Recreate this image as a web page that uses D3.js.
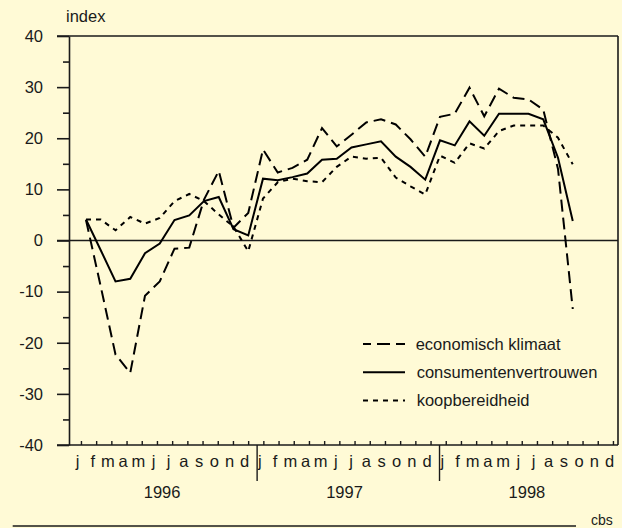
<!DOCTYPE html>
<html>
<head>
<meta charset="utf-8">
<script src="https://cdn.jsdelivr.net/npm/d3@7"></script>
<style>
  body { margin: 0; background: #fffad6; }
  svg { display: block; font-family: "Liberation Sans", Arial, sans-serif; }
</style>
</head>
<body>
<div id="chart"></div>
<script>
// maandletters, jaren en y-ticks
var months = ["j", "f", "m", "a", "m", "j", "j", "a", "s", "o", "n", "d"];
var years = ["1996", "1997", "1998"];
var yTicks = [-40, -30, -20, -10, 0, 10, 20, 30, 40];
var yMinor = [-35, -25, -15, -5, 5, 15, 25, 35];

// jan 1996 t/m okt 1998
var economischKlimaat = [4, -9, -22.3, -25.9, -10.8, -8.0, -1.6, -1.4, 8, 13.6, 2.5, 5.4,
  17.8, 13.3, 14.2, 15.8, 22.0, 18.4, 20.7, 23.1, 23.7, 22.7, 19.8, 16.4,
  24.2, 24.8, 29.9, 24.3, 29.7, 27.9, 27.6, 25.6, 14, -13.4];
var consumentenvertrouwen = [4.1, -1.9, -8.0, -7.5, -2.5, -0.6, 4.0, 4.9, 7.7, 8.5, 2.2, 1.0,
  12.1, 11.8, 12.4, 13.1, 15.8, 16.0, 18.2, 18.8, 19.4, 16.4, 14.4, 11.9,
  19.6, 18.6, 23.3, 20.5, 24.8, 24.8, 24.8, 23.7, 16.2, 3.8];
var koopbereidheid = [4.1, 4.1, 2.0, 4.6, 3.3, 4.4, 7.7, 9.1, 7.7, 5.1, 2.7, -2.1,
  8.2, 11.4, 12.1, 11.6, 11.4, 14.4, 16.4, 16.0, 16.2, 12.3, 10.6, 9.0,
  16.6, 15.2, 19.0, 18.0, 21.4, 22.5, 22.5, 22.5, 20.1, 14.9];

var series = [
  {name: "economisch klimaat", values: economischKlimaat, dash: "12,6", legendDash: "13,6", legendOffset: 5},
  {name: "consumentenvertrouwen", values: consumentenvertrouwen, dash: null, legendDash: null, legendOffset: 0},
  {name: "koopbereidheid", values: koopbereidheid, dash: "5,5", legendDash: "5,5", legendOffset: 0}
];

var width = 622, height = 528;
var plotLeft = 69, plotRight = 618, plotTop = 36, plotBottom = 445;

var svg = d3.select("#chart").append("svg")
    .attr("width", width)
    .attr("height", height);

var y = d3.scaleLinear().domain([-40, 40]).range([plotBottom, plotTop]);
// as voor de maandlabels (36 maanden)
var xa = d3.scaleLinear().domain([0, 36]).range([69.4, 616.6]);
// datapunten per maand
var x = d3.scaleLinear().domain([0, 33]).range([86, 572.75]);

var ink = "#1a1a1a";

// kader boven, rechts, onder en nullijn
svg.append("line").attr("x1", 57).attr("x2", plotRight).attr("y1", y(40)).attr("y2", y(40))
    .attr("stroke", ink).attr("stroke-width", 1.6);
svg.append("line").attr("x1", plotRight).attr("x2", plotRight).attr("y1", y(40)).attr("y2", y(-40))
    .attr("stroke", ink).attr("stroke-width", 1.6);
svg.append("line").attr("x1", 57).attr("x2", plotRight).attr("y1", y(0)).attr("y2", y(0))
    .attr("stroke", ink).attr("stroke-width", 1.4);
svg.append("line").attr("x1", 57).attr("x2", plotRight).attr("y1", y(-40)).attr("y2", y(-40))
    .attr("stroke", ink).attr("stroke-width", 1.6);

// y-as (gewoon koppelteken als minteken)
var yAxis = svg.append("g")
    .attr("transform", "translate(" + plotLeft + ",0)")
    .call(d3.axisLeft(y).tickValues(yTicks).tickSize(12).tickSizeOuter(0).tickPadding(14)
      .tickFormat(function(d) { return String(d); }));
yAxis.select(".domain").attr("stroke", ink).attr("stroke-width", 1.6);
yAxis.selectAll(".tick line").attr("stroke", ink).attr("stroke-width", 1.6);
yAxis.selectAll(".tick text").attr("fill", ink).attr("font-size", 16.5)
    .attr("font-family", "Liberation Sans, Arial, sans-serif");

svg.append("g")
    .attr("transform", "translate(" + plotLeft + ",0)")
    .call(d3.axisLeft(y).tickValues(yMinor).tickSize(6).tickFormat(""))
  .call(function(g) {
    g.select(".domain").remove();
    g.selectAll(".tick line").attr("stroke", ink).attr("stroke-width", 1.6);
  });

// x-as: maandstreepjes
var tickPos = d3.range(36).map(function(k) { return k + 0.76; });
svg.append("g")
    .attr("transform", "translate(0," + plotBottom + ")")
    .call(d3.axisBottom(xa).tickValues(tickPos).tickSize(-4).tickSizeOuter(0).tickFormat(""))
  .call(function(g) {
    g.select(".domain").remove();
    g.selectAll(".tick line").attr("stroke", ink).attr("stroke-width", 1.4);
  });

// maandletters
var monthPos = d3.range(36).map(function(k) { return k + 0.5; });
svg.append("g")
    .attr("transform", "translate(0," + plotBottom + ")")
    .call(d3.axisBottom(xa).tickValues(monthPos).tickSize(0).tickPadding(10)
      .tickFormat(function(d) { return months[Math.floor(d) % 12]; }))
  .call(function(g) {
    g.select(".domain").remove();
    g.selectAll(".tick text").attr("fill", ink).attr("font-size", 16.5)
      .attr("font-family", "Liberation Sans, Arial, sans-serif");
  });

// jaarscheidingen
svg.selectAll(".yearsep")
    .data([1, 2])
  .enter().append("line")
    .attr("class", "yearsep")
    .attr("x1", function(d) { return xa(12 * d + 0.35); })
    .attr("x2", function(d) { return xa(12 * d + 0.35); })
    .attr("y1", plotBottom)
    .attr("y2", 481)
    .attr("stroke", ink)
    .attr("stroke-width", 1.4);

svg.selectAll(".yearlabel")
    .data(years)
  .enter().append("text")
    .attr("class", "yearlabel")
    .attr("x", function(d, i) { return xa(12 * i + 6.1); })
    .attr("y", 497.5)
    .attr("text-anchor", "middle")
    .attr("font-size", 16.5)
    .attr("fill", ink)
    .text(function(d) { return d; });

// lijnen
var line = d3.line()
    .x(function(d, i) { return x(i); })
    .y(function(d) { return y(d); });

svg.selectAll(".serie")
    .data(series)
  .enter().append("path")
    .attr("class", "serie")
    .attr("d", function(d) { return line(d.values); })
    .attr("fill", "none")
    .attr("stroke", "#000")
    .attr("stroke-width", 2)
    .attr("stroke-linejoin", "miter")
    .attr("stroke-dasharray", function(d) { return d.dash; });

// legenda
var legend = svg.selectAll(".legend")
    .data(series)
  .enter().append("g")
    .attr("class", "legend")
    .attr("transform", function(d, i) { return "translate(363," + (344 + i * 28.3) + ")"; });

legend.append("line")
    .attr("x1", 0).attr("x2", 42)
    .attr("stroke", "#000")
    .attr("stroke-width", 2)
    .attr("stroke-dasharray", function(d) { return d.legendDash; })
    .attr("stroke-dashoffset", function(d) { return d.legendOffset; });

legend.append("text")
    .attr("x", function(d, i) { return i == 0 ? 52.7 : 53.7; })
    .attr("y", 5.5)
    .attr("font-size", 16.5)
    .attr("fill", ink)
    .text(function(d) { return d.name; });

// titel en voetregel
svg.append("text")
    .attr("x", 66).attr("y", 21.5)
    .attr("font-size", 16.5)
    .attr("fill", ink)
    .text("index");

svg.append("line")
    .attr("x1", 12.7).attr("x2", 576)
    .attr("y1", 526).attr("y2", 526)
    .attr("stroke", ink).attr("stroke-width", 1.6);

svg.append("text")
    .attr("x", 591).attr("y", 525)
    .attr("font-size", 14)
    .attr("fill", ink)
    .text("cbs");
</script>
</body>
</html>
